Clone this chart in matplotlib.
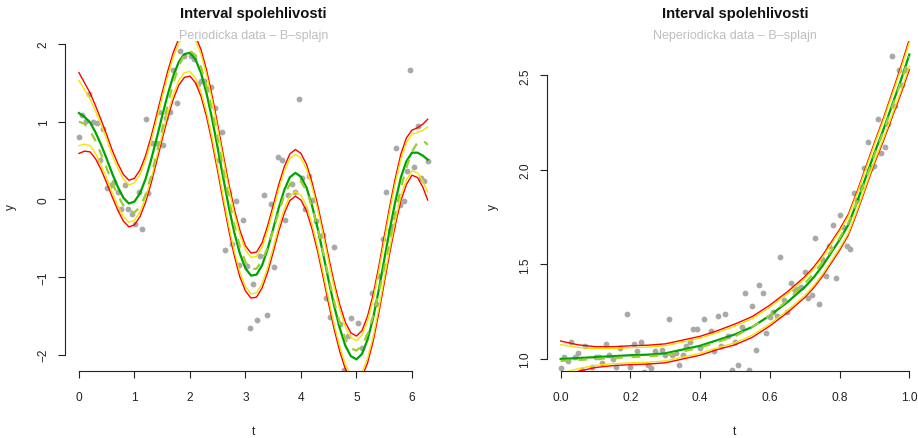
import numpy as np
import matplotlib
matplotlib.use("Agg")
import matplotlib.pyplot as plt

plt.rcParams['font.family'] = ['Liberation Sans', 'DejaVu Sans']

# ---- periodic data (left panel) ----
per_t = [0.00, 0.06, 0.19, 0.13, 0.25, 0.32, 0.44, 0.38, 0.51, 0.57, 0.63, 0.70, 0.83,
         0.76, 0.88, 0.95, 1.01, 1.14, 1.08, 1.25, 1.20, 1.32, 1.38, 1.45, 1.51, 1.57,
         1.64, 1.76, 1.70, 1.82, 1.89, 2.01, 2.07, 2.14, 2.20, 2.26, 2.32, 2.38, 2.45,
         2.58, 2.52, 2.71, 2.83, 2.64, 2.76, 2.89, 2.95, 3.02, 3.14, 3.08, 3.21, 3.27,
         3.39, 3.52, 3.46, 3.71, 3.33, 3.59, 3.65, 3.77, 3.84, 3.90, 3.96, 4.02, 4.15,
         4.21, 4.08, 4.28, 4.34, 4.40, 4.59, 4.46, 4.53, 4.71, 4.78, 4.84, 4.91, 5.03,
         5.10, 5.28, 5.35, 5.41, 5.48, 5.60, 5.66, 5.79, 5.85, 5.53, 5.72, 5.91, 5.97,
         6.04, 6.10, 6.16, 6.22, 6.29]
per_y = [0.80, 1.09, 1.36, 1.01, 0.99, 0.98, 0.90, 0.51, 0.15, 0.19, 0.22, 0.10, 0.18,
         -0.12, -0.12, -0.19, -0.32, -0.38, 0.10, 0.08, 1.03, 0.73, 0.73, 1.12, 0.70, 1.05,
         1.12, 1.24, 1.66, 1.91, 1.84, 1.84, 1.80, 1.48, 1.52, 1.52, 1.42, 1.45, 1.18,
         0.86, 0.50, 0.08, -0.02, -0.65, -0.58, -0.84, -0.27, -0.86, -1.09, -1.66, -1.56, -0.73,
         -1.49, -0.87, -0.06, -0.27, 0.06, 0.55, 0.50, 0.05, 0.20, 0.10, 1.29, 0.27, 0.30,
         -0.01, -0.13, -0.28, -0.47, -0.46, -0.61, -1.27, -1.52, -1.61, -2.20, -1.76, -1.53, -1.59,
         -1.91, -1.21, -1.35, -0.99, -0.51, -0.39, -0.34, -0.07, -0.02, 0.09, 0.66, 0.37, 1.66,
         0.41, 0.94, 0.28, 0.24, 0.49]

per_grid = [0.0, 0.1, 0.2, 0.3, 0.4, 0.5, 0.6, 0.7, 0.8, 0.9, 1.0, 1.1, 1.2, 1.3, 1.4,
            1.5, 1.6, 1.7, 1.8, 1.9, 2.0, 2.1, 2.2, 2.3, 2.4, 2.5, 2.6, 2.7, 2.8, 2.9,
            3.0, 3.1, 3.2, 3.3, 3.4, 3.5, 3.6, 3.7, 3.8, 3.9, 4.0, 4.1, 4.2, 4.3, 4.4,
            4.5, 4.6, 4.7, 4.8, 4.9, 5.0, 5.1, 5.2, 5.3, 5.4, 5.5, 5.6, 5.7, 5.8, 5.9,
            6.0, 6.1, 6.2, 6.283]
per_fit = [1.11, 1.06, 0.99, 0.86, 0.70, 0.52, 0.33, 0.16, 0.02, -0.055,
           -0.03, 0.077, 0.26, 0.506, 0.785, 1.074, 1.35, 1.589, 1.77, 1.869,
           1.885, 1.80, 1.624, 1.36, 1.032, 0.66, 0.274, -0.10, -0.43, -0.70,
           -0.89, -0.982, -0.97, -0.85, -0.64, -0.38, -0.11, 0.12, 0.284, 0.34,
           0.29, 0.15, -0.082, -0.37, -0.704, -1.05, -1.378, -1.66, -1.885, -2.02,
           -2.06, -1.99, -1.805, -1.53, -1.174, -0.78, -0.389, -0.03, 0.281, 0.49,
           0.60, 0.60, 0.56, 0.51]
per_true = [1.00, 0.97, 0.88, 0.75, 0.58, 0.396, 0.21, 0.05, -0.08, -0.151,
            -0.168, -0.10, 0.06, 0.296, 0.59, 0.90, 1.22, 1.497, 1.72, 1.86,
            1.91, 1.856, 1.70, 1.456, 1.14, 0.768, 0.38, 0.006, -0.33, -0.611,
            -0.81, -0.90, -0.893, -0.79, -0.617, -0.40, -0.162, 0.05, 0.193, 0.258,
            0.229, 0.11, -0.098, -0.37, -0.683, -1.01, -1.322, -1.59, -1.798, -1.919,
            -1.948, -1.884, -1.732, -1.50, -1.21, -0.88, -0.525, -0.17, 0.144, 0.41,
            0.613, 0.73, 0.76, 0.70]
per_red = [0.52, 0.44, 0.38, 0.34, 0.32, 0.31, 0.30, 0.30, 0.30, 0.30,
           0.30, 0.30, 0.30, 0.30, 0.30, 0.30, 0.30, 0.30, 0.30, 0.30,
           0.30, 0.30, 0.30, 0.30, 0.30, 0.30, 0.30, 0.30, 0.30, 0.30,
           0.29, 0.29, 0.29, 0.29, 0.30, 0.30, 0.30, 0.30, 0.30, 0.30,
           0.30, 0.30, 0.30, 0.30, 0.30, 0.30, 0.30, 0.30, 0.30, 0.30,
           0.30, 0.30, 0.30, 0.30, 0.30, 0.30, 0.30, 0.30, 0.30, 0.30,
           0.29, 0.32, 0.41, 0.52]
per_yel = [0.42, 0.35, 0.30, 0.27, 0.26, 0.25, 0.24, 0.24, 0.24, 0.24,
           0.24, 0.24, 0.24, 0.24, 0.24, 0.24, 0.24, 0.24, 0.24, 0.24,
           0.24, 0.24, 0.24, 0.24, 0.24, 0.24, 0.24, 0.24, 0.24, 0.24,
           0.235, 0.235, 0.235, 0.235, 0.24, 0.24, 0.24, 0.24, 0.24, 0.24,
           0.24, 0.24, 0.24, 0.24, 0.24, 0.24, 0.24, 0.24, 0.24, 0.24,
           0.24, 0.24, 0.24, 0.24, 0.24, 0.24, 0.24, 0.24, 0.24, 0.24,
           0.235, 0.26, 0.33, 0.42]

# ---- non-periodic data (right panel) ----
np_t = [0.00, 0.01, 0.02, 0.03, 0.04, 0.05, 0.06, 0.07, 0.09, 0.10, 0.11, 0.12, 0.13, 0.14,
        0.15, 0.16, 0.17, 0.19, 0.20, 0.21, 0.22, 0.23, 0.24, 0.25, 0.26, 0.27, 0.29, 0.30,
        0.31, 0.32, 0.33, 0.34, 0.35, 0.36, 0.37, 0.38, 0.39, 0.40, 0.41, 0.43, 0.44, 0.45,
        0.46, 0.47, 0.48, 0.49, 0.50, 0.51, 0.52, 0.53, 0.54, 0.55, 0.56, 0.57, 0.58, 0.59,
        0.60, 0.61, 0.62, 0.63, 0.64, 0.65, 0.66, 0.67, 0.68, 0.69, 0.70, 0.71, 0.72, 0.73,
        0.74, 0.75, 0.76, 0.77, 0.78, 0.79, 0.80, 0.81, 0.82, 0.83, 0.84, 0.85, 0.86, 0.87,
        0.88, 0.89, 0.90, 0.91, 0.92, 0.93, 0.94, 0.95, 0.96, 0.97, 0.98, 0.99]
np_y = [0.95, 1.01, 0.99, 1.09, 1.01, 1.03, 0.94, 1.07, 0.96, 1.01, 1.01, 0.98, 1.08, 1.02,
        1.00, 0.96, 1.06, 1.24, 0.96, 1.08, 1.04, 1.09, 0.93, 0.97, 0.95, 1.04, 1.05, 1.02,
        1.21, 1.02, 1.03, 0.97, 1.02, 1.07, 1.09, 1.16, 1.16, 1.06, 1.21, 1.15, 1.04, 1.23,
        1.07, 1.24, 1.12, 0.94, 1.09, 0.97, 1.17, 1.35, 0.94, 1.28, 1.05, 1.39, 1.35, 1.14,
        1.22, 1.25, 1.23, 1.54, 1.31, 1.25, 1.40, 1.37, 1.37, 1.38, 1.46, 1.32, 1.34, 1.64,
        1.29, 1.53, 1.44, 1.60, 1.71, 1.43, 1.76, 1.70, 1.60, 1.58, 1.88, 1.84, 1.91, 2.01,
        2.15, 2.01, 2.02, 2.27, 2.09, 2.12, 2.24, 2.60, 2.34, 2.53, 2.45, 2.53]

np_grid = [0.0, 0.05, 0.1, 0.15, 0.2, 0.25, 0.3, 0.35, 0.4, 0.45, 0.5, 0.55, 0.6, 0.65,
           0.7, 0.725, 0.75, 0.775, 0.8, 0.825, 0.85, 0.875, 0.9, 0.925, 0.95, 0.975, 1.0]
np_fit = [1.00, 1.005, 1.01, 1.015, 1.02, 1.023, 1.03, 1.05, 1.07, 1.10, 1.13, 1.17, 1.23,
          1.30, 1.38, 1.43, 1.49, 1.56, 1.63, 1.71, 1.83, 1.96, 2.09, 2.21, 2.34, 2.47, 2.61]
np_true = [0.99, 0.995, 1.00, 1.005, 1.01, 1.015, 1.02, 1.04, 1.06, 1.09, 1.12, 1.17, 1.23,
           1.31, 1.40, 1.45, 1.51, 1.57, 1.64, 1.72, 1.83, 1.95, 2.08, 2.20, 2.33, 2.46, 2.60]
np_red = [0.095, 0.07, 0.055, 0.05, 0.05, 0.05, 0.05, 0.05, 0.05, 0.05, 0.055, 0.055, 0.055,
          0.055, 0.055, 0.055, 0.055, 0.055, 0.055, 0.055, 0.055, 0.055, 0.055, 0.06, 0.065,
          0.072, 0.08]
np_yel = [0.076, 0.056, 0.044, 0.04, 0.04, 0.04, 0.04, 0.04, 0.04, 0.04, 0.044, 0.044, 0.044,
          0.044, 0.044, 0.044, 0.044, 0.044, 0.044, 0.044, 0.044, 0.044, 0.044, 0.048, 0.052,
          0.058, 0.064]

GREEN = '#00A400'
RED = '#FF0000'
YELLOW = '#F2E600'
TRUE_COL = '#9ACD32'
PT_COL = '#A9A9A9'

fig = plt.figure(figsize=(9.18, 4.39), dpi=100)


def panel(rect, t, y, grid, fit, true, red, yel, xlim, ylim, xticks, yticks, xfmt, yfmt, sub):
    ax = fig.add_axes(rect)
    g = np.array(grid)
    f = np.array(fit)
    ax.plot(t, y, 'o', color=PT_COL, ms=4.2, mec='none', zorder=2)
    ax.plot(g, f + np.array(red), color=RED, lw=1.0, zorder=3)
    ax.plot(g, f - np.array(red), color=RED, lw=1.0, zorder=3)
    ax.plot(g, f + np.array(yel), color=YELLOW, lw=1.0, zorder=3)
    ax.plot(g, f - np.array(yel), color=YELLOW, lw=1.0, zorder=3)
    ax.plot(g, f, color=GREEN, lw=1.6, zorder=4)
    ax.plot(g, true, color=TRUE_COL, lw=1.6, ls=(0, (4, 4)), zorder=5)
    ax.set_xlim(*xlim)
    ax.set_ylim(*ylim)
    for s in ['top', 'right']:
        ax.spines[s].set_visible(False)
    ax.spines['left'].set_bounds(yticks[0], yticks[-1])
    ax.spines['bottom'].set_bounds(xticks[0], xticks[-1])
    for s in ['left', 'bottom']:
        ax.spines[s].set_linewidth(0.8)
        ax.spines[s].set_color('#222222')
    ax.set_xticks(xticks)
    ax.set_xticklabels([xfmt.format(v) for v in xticks])
    ax.set_yticks(yticks)
    ax.set_yticklabels([yfmt.format(v).replace('-', '\u2212') for v in yticks],
                       rotation=90, va='center')
    ax.tick_params(axis='both', direction='out', length=5, width=0.8, colors='#222222',
                   labelsize=8.6, labelcolor='#222222')
    ax.tick_params(axis='x', pad=9)
    ax.tick_params(axis='y', pad=6)
    ax.set_xlabel('t', fontsize=8.6, labelpad=16, color='#222222')
    ax.set_ylabel('y', fontsize=8.6, labelpad=15, color='#222222')
    ax.set_title('Interval spolehlivosti', fontsize=10.6, fontweight='bold', pad=17,
                 color='#111111')
    ax.text(0.5, 1.0 + 6 / 330.6, sub, transform=ax.transAxes, ha='center', va='center',
            fontsize=9.0, color='#BEBEBE')
    return ax


panel([65 / 918, 66.7 / 439, 376.6 / 918, 330.6 / 439], per_t, per_y, per_grid, per_fit,
      per_true, per_red, per_yel, (-0.2513, 6.534), (-2.214, 2.041),
      [0, 1, 2, 3, 4, 5, 6], [-2, -1, 0, 1, 2], '{:d}', '{:d}',
      'Periodicka data \u2013 B\u2013splajn')
panel([546.7 / 918, 66.7 / 439, 376.6 / 918, 330.6 / 439], np_t, np_y, np_grid, np_fit,
      np_true, np_red, np_yel, (-0.04, 1.04), (0.935, 2.683),
      [0.0, 0.2, 0.4, 0.6, 0.8, 1.0], [1.0, 1.5, 2.0, 2.5], '{:.1f}', '{:.1f}',
      'Neperiodicka data \u2013 B\u2013splajn')

fig.savefig('out.png', dpi=100)
